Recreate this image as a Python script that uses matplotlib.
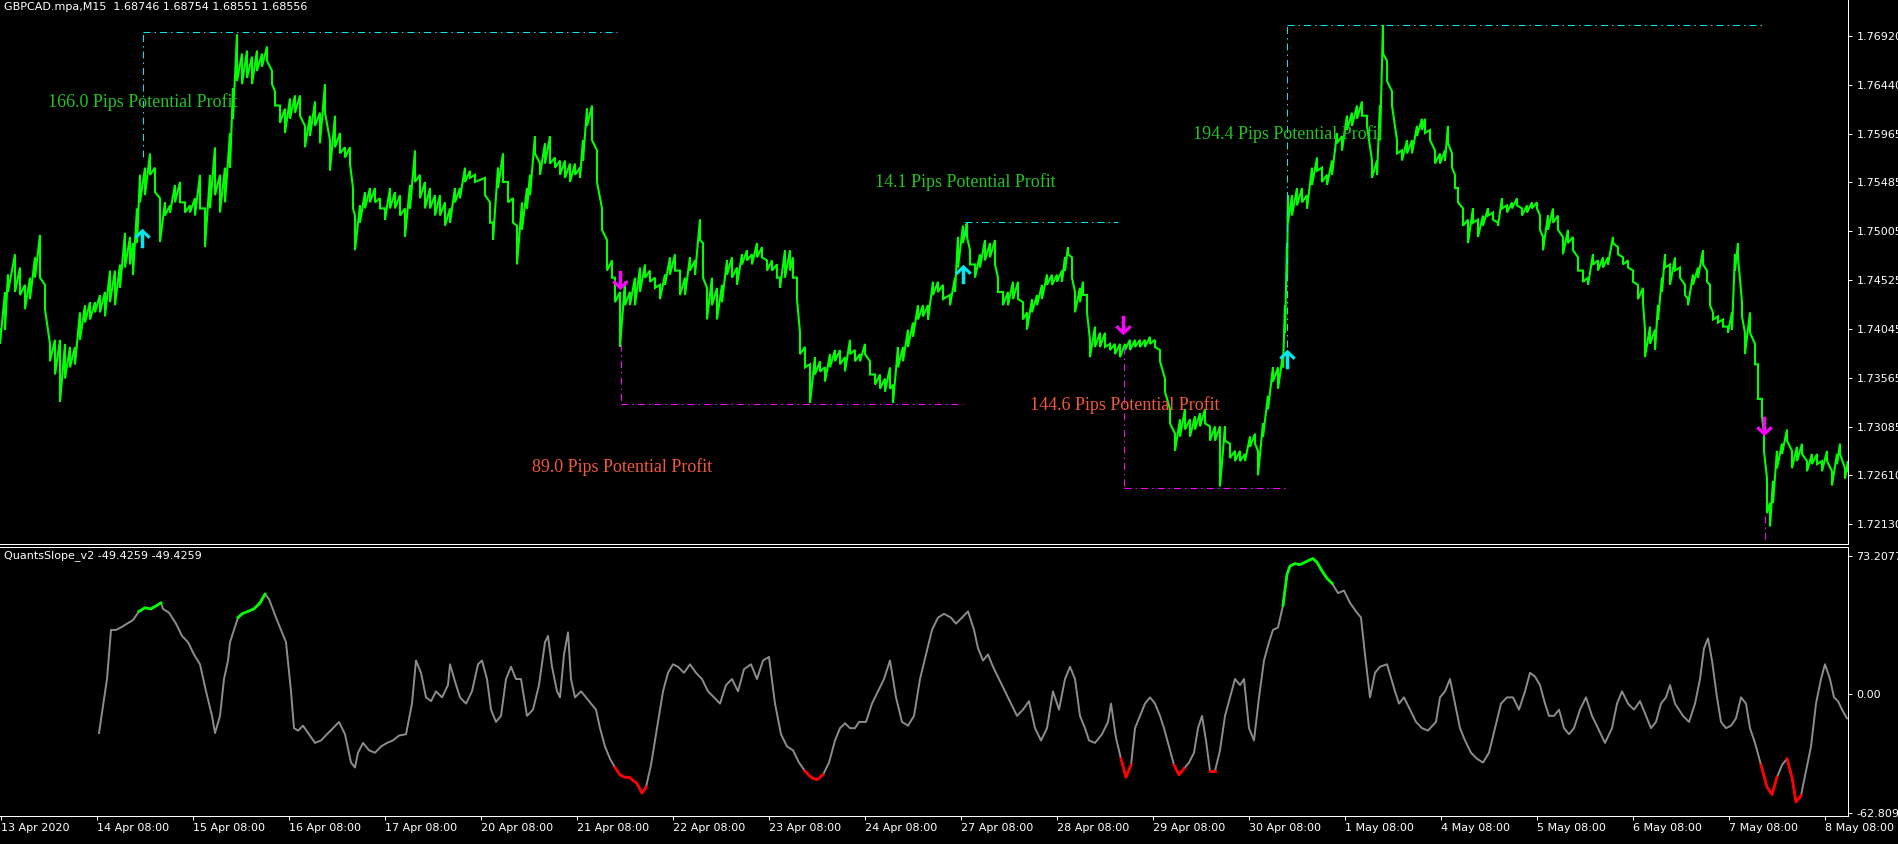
"""
GBPCAD M15 chart with QuantsSlope_v2 signals (MT4 style)
"""
import matplotlib
matplotlib.use('Agg')
import matplotlib.pyplot as plt
from matplotlib.path import Path
import numpy as np

# ---- price series (bar index, high / low of the close line per sample) ----
price_bar = [
    0, 5, 8, 15, 20, 25, 30, 35, 40, 45,
    50, 55, 60, 65, 70, 75, 80, 85, 90, 95,
    100, 105, 110, 115, 120, 125, 130, 133, 137, 140,
    145, 150, 155, 160, 165, 170, 175, 180, 185, 190,
    195, 200, 205, 210, 215, 220, 225, 230, 233, 237,
    242, 247, 252, 257, 262, 267, 272, 275, 280, 285,
    290, 295, 300, 305, 310, 315, 320, 325, 330, 335,
    340, 345, 350, 353, 355, 360, 365, 370, 375, 380,
    385, 390, 395, 400, 405, 410, 415, 420, 425, 430,
    435, 440, 445, 450, 455, 460, 465, 470,
    475, 485, 490, 493, 498, 503, 508, 513, 517, 522,
    527, 530, 535, 540, 545, 550, 555, 560, 565, 570,
    575, 580, 583, 587, 592, 597, 602, 607, 612, 615,
    620, 625, 630, 635, 640, 645, 650, 655, 660, 665,
    670, 675, 680, 685, 690, 695, 700, 703, 707, 712,
    717, 722, 727, 732, 737, 742, 747, 752, 757, 762,
    767, 772, 777, 780, 785, 790, 793, 797, 800, 805,
    810, 815, 820, 825, 830, 835, 840, 845, 850, 855,
    860, 865, 870, 875, 880, 885, 890, 893, 898, 903,
    908, 913, 918, 923, 928, 933, 938, 943,
    950, 955, 958, 963, 967, 970, 975, 980, 985, 990,
    995, 998, 1003, 1008, 1013, 1018, 1023, 1027, 1032, 1037,
    1042, 1047, 1052, 1057, 1062, 1065, 1068, 1072, 1075, 1080,
    1083, 1087, 1090, 1095, 1100, 1105, 1110, 1115, 1120, 1125,
    1130, 1135, 1140, 1145, 1150, 1155, 1160, 1165, 1170, 1175,
    1180, 1185, 1190, 1195, 1200, 1205, 1210, 1215, 1220, 1225,
    1230, 1235, 1240, 1245, 1250, 1255, 1258, 1263, 1268, 1273,
    1278, 1283, 1285, 1287, 1288, 1292, 1297, 1302, 1307, 1312,
    1317, 1322, 1327, 1332, 1337, 1342, 1347, 1352, 1357, 1362,
    1367, 1372, 1377, 1380, 1383, 1387, 1392, 1397, 1402, 1407,
    1412, 1417, 1422,
    1425, 1430, 1435, 1440, 1445, 1448, 1452, 1455, 1458, 1463,
    1468, 1473, 1478, 1483, 1488, 1493, 1498, 1502, 1507, 1512,
    1517, 1522, 1527, 1532, 1537, 1540, 1543, 1548, 1553, 1558,
    1563, 1568, 1573, 1578, 1583, 1588, 1593, 1598, 1603, 1608,
    1613, 1618, 1623, 1628, 1633, 1638, 1643, 1645, 1650, 1655,
    1658, 1662, 1665, 1670, 1675, 1680, 1685, 1688, 1693, 1698,
    1703, 1707, 1710, 1713, 1718, 1723, 1728, 1732, 1735, 1738,
    1742, 1745, 1750, 1755, 1758, 1762, 1764, 1767, 1770, 1773,
    1777, 1782, 1787, 1792, 1797, 1802, 1807, 1812, 1817, 1822,
    1827, 1832, 1837, 1840, 1845, 1848,
]
price_hi = [
    1.7404, 1.7441, 1.7458, 1.7478, 1.7465, 1.7448, 1.7455, 1.7475, 1.7497, 1.7448,
    1.7390, 1.7394, 1.7394, 1.7390, 1.7387, 1.7387, 1.7421, 1.7428, 1.7431, 1.7431,
    1.7438, 1.7441, 1.7462, 1.7462, 1.7468, 1.7499, 1.7495, 1.7489, 1.7523, 1.7556,
    1.7563, 1.7577, 1.7563, 1.7533, 1.7529, 1.7526, 1.7546, 1.7549, 1.7529, 1.7526,
    1.7533, 1.7556, 1.7523, 1.7556, 1.7583, 1.7556, 1.7563, 1.7597, 1.7641, 1.7694,
    1.7675, 1.7678, 1.7672, 1.7678, 1.7675, 1.7682, 1.7658, 1.7638, 1.7624, 1.7621,
    1.7631, 1.7634, 1.7634, 1.7604, 1.7614, 1.7628, 1.7617, 1.7645, 1.7590, 1.7614,
    1.7597, 1.7583, 1.7583, 1.7543, 1.7516, 1.7526, 1.7539, 1.7543, 1.7543, 1.7533,
    1.7523, 1.7543, 1.7539, 1.7536, 1.7523, 1.7546, 1.7580, 1.7556, 1.7549, 1.7543,
    1.7536, 1.7536, 1.7529, 1.7523, 1.7543, 1.7543, 1.7563, 1.7560,
    1.7556, 1.7553, 1.7529, 1.7509, 1.7563, 1.7577, 1.7549, 1.7533, 1.7506, 1.7529,
    1.7543, 1.7556, 1.7594, 1.7567, 1.7587, 1.7594, 1.7573, 1.7570, 1.7570, 1.7567,
    1.7567, 1.7563, 1.7590, 1.7621, 1.7624, 1.7580, 1.7523, 1.7492, 1.7472, 1.7455,
    1.7441, 1.7451, 1.7441, 1.7455, 1.7465, 1.7468, 1.7462, 1.7455, 1.7448, 1.7458,
    1.7475, 1.7478, 1.7462, 1.7455, 1.7475, 1.7472, 1.7512, 1.7489, 1.7445, 1.7455,
    1.7445, 1.7448, 1.7472, 1.7475, 1.7465, 1.7478, 1.7482, 1.7478, 1.7489, 1.7485,
    1.7472, 1.7472, 1.7468, 1.7455, 1.7482, 1.7482, 1.7475, 1.7455, 1.7401, 1.7387,
    1.7370, 1.7377, 1.7373, 1.7367, 1.7380, 1.7384, 1.7384, 1.7377, 1.7394, 1.7384,
    1.7380, 1.7390, 1.7373, 1.7360, 1.7360, 1.7356, 1.7367, 1.7350, 1.7387, 1.7387,
    1.7404, 1.7411, 1.7428, 1.7428, 1.7428, 1.7451, 1.7451, 1.7448,
    1.7438, 1.7455, 1.7495, 1.7506, 1.7509, 1.7482, 1.7468, 1.7478, 1.7492, 1.7489,
    1.7492, 1.7455, 1.7441, 1.7441, 1.7451, 1.7451, 1.7431, 1.7421, 1.7434, 1.7438,
    1.7448, 1.7458, 1.7458, 1.7458, 1.7462, 1.7475, 1.7485, 1.7475, 1.7441, 1.7445,
    1.7451, 1.7438, 1.7394, 1.7407, 1.7401, 1.7401, 1.7390, 1.7390, 1.7390, 1.7390,
    1.7394, 1.7394, 1.7394, 1.7394, 1.7397, 1.7394, 1.7384, 1.7356, 1.7326, 1.7302,
    1.7316, 1.7326, 1.7316, 1.7319, 1.7322, 1.7326, 1.7309, 1.7309, 1.7309, 1.7309,
    1.7292, 1.7285, 1.7285, 1.7282, 1.7299, 1.7302, 1.7285, 1.7312, 1.7339, 1.7367,
    1.7367, 1.7380, 1.7428, 1.7489, 1.7536, 1.7536, 1.7543, 1.7543, 1.7536, 1.7563,
    1.7573, 1.7563, 1.7556, 1.7570, 1.7597, 1.7594, 1.7614, 1.7617, 1.7624, 1.7628,
    1.7614, 1.7570, 1.7570, 1.7624, 1.7703, 1.7668, 1.7638, 1.7590, 1.7580, 1.7590,
    1.7590, 1.7604, 1.7611,
    1.7611, 1.7600, 1.7580, 1.7577, 1.7580, 1.7604, 1.7577, 1.7556, 1.7543, 1.7523,
    1.7512, 1.7523, 1.7512, 1.7516, 1.7523, 1.7519, 1.7509, 1.7533, 1.7526, 1.7529,
    1.7533, 1.7523, 1.7526, 1.7529, 1.7529, 1.7516, 1.7495, 1.7516, 1.7523, 1.7516,
    1.7495, 1.7502, 1.7495, 1.7475, 1.7462, 1.7455, 1.7478, 1.7472, 1.7475, 1.7475,
    1.7495, 1.7485, 1.7475, 1.7472, 1.7462, 1.7448, 1.7445, 1.7404, 1.7407, 1.7404,
    1.7428, 1.7455, 1.7478, 1.7468, 1.7475, 1.7465, 1.7448, 1.7434, 1.7458, 1.7465,
    1.7482, 1.7462, 1.7448, 1.7421, 1.7417, 1.7414, 1.7407, 1.7421, 1.7478, 1.7489,
    1.7431, 1.7401, 1.7421, 1.7390, 1.7370, 1.7336, 1.7302, 1.7258, 1.7234, 1.7255,
    1.7285, 1.7292, 1.7306, 1.7285, 1.7289, 1.7292, 1.7275, 1.7282, 1.7282, 1.7275,
    1.7285, 1.7265, 1.7282, 1.7292, 1.7268, 1.7275,
]
price_lo = [
    1.7390, 1.7404, 1.7441, 1.7441, 1.7438, 1.7424, 1.7434, 1.7455, 1.7455, 1.7424,
    1.7373, 1.7360, 1.7333, 1.7356, 1.7367, 1.7370, 1.7394, 1.7411, 1.7414, 1.7421,
    1.7421, 1.7417, 1.7431, 1.7428, 1.7445, 1.7465, 1.7468, 1.7458, 1.7489, 1.7529,
    1.7536, 1.7556, 1.7539, 1.7490, 1.7516, 1.7519, 1.7529, 1.7529, 1.7519, 1.7519,
    1.7516, 1.7523, 1.7485, 1.7523, 1.7536, 1.7519, 1.7529, 1.7563, 1.7611, 1.7648,
    1.7645, 1.7651, 1.7645, 1.7658, 1.7662, 1.7668, 1.7645, 1.7624, 1.7607, 1.7597,
    1.7611, 1.7617, 1.7614, 1.7583, 1.7594, 1.7604, 1.7587, 1.7617, 1.7560, 1.7583,
    1.7577, 1.7573, 1.7567, 1.7523, 1.7482, 1.7509, 1.7523, 1.7529, 1.7529, 1.7523,
    1.7512, 1.7523, 1.7523, 1.7516, 1.7495, 1.7523, 1.7549, 1.7533, 1.7523, 1.7523,
    1.7516, 1.7516, 1.7506, 1.7509, 1.7529, 1.7533, 1.7549, 1.7553,
    1.7549, 1.7536, 1.7509, 1.7492, 1.7543, 1.7549, 1.7529, 1.7509, 1.7468, 1.7502,
    1.7523, 1.7536, 1.7577, 1.7556, 1.7567, 1.7567, 1.7563, 1.7556, 1.7553, 1.7549,
    1.7556, 1.7553, 1.7570, 1.7604, 1.7590, 1.7549, 1.7502, 1.7462, 1.7455, 1.7431,
    1.7387, 1.7428, 1.7428, 1.7428, 1.7441, 1.7455, 1.7451, 1.7445, 1.7434, 1.7448,
    1.7458, 1.7462, 1.7438, 1.7438, 1.7462, 1.7458, 1.7492, 1.7455, 1.7414, 1.7428,
    1.7414, 1.7431, 1.7458, 1.7455, 1.7448, 1.7468, 1.7472, 1.7468, 1.7475, 1.7475,
    1.7462, 1.7462, 1.7455, 1.7445, 1.7455, 1.7462, 1.7455, 1.7434, 1.7380, 1.7367,
    1.7332, 1.7360, 1.7363, 1.7353, 1.7367, 1.7373, 1.7370, 1.7363, 1.7380, 1.7373,
    1.7373, 1.7380, 1.7360, 1.7350, 1.7346, 1.7343, 1.7346, 1.7332, 1.7367, 1.7373,
    1.7387, 1.7397, 1.7414, 1.7417, 1.7414, 1.7438, 1.7441, 1.7434,
    1.7428, 1.7441, 1.7465, 1.7489, 1.7495, 1.7468, 1.7455, 1.7465, 1.7472, 1.7475,
    1.7468, 1.7441, 1.7428, 1.7428, 1.7434, 1.7434, 1.7414, 1.7404, 1.7421, 1.7428,
    1.7434, 1.7448, 1.7448, 1.7451, 1.7451, 1.7462, 1.7478, 1.7455, 1.7421, 1.7431,
    1.7438, 1.7421, 1.7377, 1.7387, 1.7387, 1.7387, 1.7384, 1.7380, 1.7377, 1.7384,
    1.7384, 1.7387, 1.7387, 1.7387, 1.7390, 1.7387, 1.7373, 1.7343, 1.7312, 1.7285,
    1.7299, 1.7306, 1.7299, 1.7306, 1.7309, 1.7312, 1.7295, 1.7295, 1.7250, 1.7295,
    1.7278, 1.7275, 1.7275, 1.7275, 1.7289, 1.7292, 1.7261, 1.7299, 1.7326, 1.7353,
    1.7346, 1.7367, 1.7401, 1.7455, 1.7509, 1.7516, 1.7526, 1.7529, 1.7523, 1.7546,
    1.7560, 1.7549, 1.7546, 1.7556, 1.7587, 1.7580, 1.7600, 1.7604, 1.7611, 1.7614,
    1.7604, 1.7553, 1.7556, 1.7590, 1.7675, 1.7648, 1.7624, 1.7577, 1.7570, 1.7577,
    1.7577, 1.7594, 1.7600,
    1.7597, 1.7590, 1.7567, 1.7567, 1.7570, 1.7587, 1.7563, 1.7543, 1.7529, 1.7506,
    1.7489, 1.7509, 1.7495, 1.7506, 1.7516, 1.7512, 1.7506, 1.7523, 1.7519, 1.7523,
    1.7526, 1.7516, 1.7519, 1.7523, 1.7523, 1.7502, 1.7482, 1.7502, 1.7509, 1.7502,
    1.7478, 1.7489, 1.7482, 1.7462, 1.7451, 1.7448, 1.7468, 1.7462, 1.7465, 1.7468,
    1.7489, 1.7478, 1.7468, 1.7465, 1.7451, 1.7434, 1.7431, 1.7377, 1.7390, 1.7384,
    1.7414, 1.7441, 1.7465, 1.7448, 1.7462, 1.7455, 1.7438, 1.7428, 1.7448, 1.7455,
    1.7468, 1.7451, 1.7428, 1.7414, 1.7411, 1.7407, 1.7401, 1.7404, 1.7462, 1.7475,
    1.7417, 1.7380, 1.7401, 1.7370, 1.7336, 1.7319, 1.7285, 1.7224, 1.7211, 1.7234,
    1.7268, 1.7282, 1.7295, 1.7268, 1.7275, 1.7282, 1.7265, 1.7272, 1.7272, 1.7265,
    1.7275, 1.7251, 1.7272, 1.7282, 1.7258, 1.7265,
]

# ---- signals ----
arrow_bar = [142, 620, 963, 1123, 1287, 1764]
arrow_price = [1.7494, 1.7453, 1.7459, 1.7409, 1.7375, 1.7309]
arrow_side = ['buy', 'sell', 'buy', 'sell', 'buy', 'sell']

target_start = [143, 621, 965, 1124, 1287]
target_end = [617, 963, 1118, 1287, 1762]
target_level = [1.7696, 1.7331, 1.7510, 1.7249, 1.7703]
entry_level = [1.7573, 1.7390, 1.7496, 1.7387, 1.7387]
target_side = ['buy', 'sell', 'buy', 'sell', 'buy']
open_sell_bar = 1765
open_sell_from = 1.7221

pips = [166.0, 89.0, 14.1, 144.6, 194.4]
pips_bar = [48, 532, 875, 1030, 1193]
pips_price = [1.7627, 1.7269, 1.7549, 1.7330, 1.7596]

price_ticks = [1.76920, 1.76440, 1.75965, 1.75485, 1.75005, 1.74525,
               1.74045, 1.73565, 1.73085, 1.72610, 1.72130]

# ---- QuantsSlope_v2 indicator ----
ind_bar = [
    99, 107, 111, 116, 121, 127, 133, 139, 145, 151, 157, 161, 163, 169, 176,
    182, 188, 194, 200, 206, 212, 215, 220, 224, 228, 230, 234, 238, 242, 248,
    254, 260, 265, 269, 276, 281, 286, 291, 294, 298, 303, 309, 315, 321, 327,
    333, 339, 345, 351, 355, 358, 363, 369, 375, 381, 387, 393, 399, 406, 412,
    416, 421, 426, 431, 436, 442, 448, 450, 455, 460, 466, 472, 478, 482, 487,
    491, 496, 501, 506, 511, 516, 521, 527, 533, 539, 545, 548, 552, 557, 560,
    564, 568, 571, 575, 581, 586, 591, 596, 600, 605, 610, 615, 620, 625, 629,
    637, 642, 646, 651, 657, 663, 668, 673, 678, 684, 690, 696, 702, 708, 714,
    720, 726, 732, 738, 744, 751, 757, 763, 769, 775, 781, 787, 793, 799, 805,
    811, 817, 823, 829, 835, 840, 845, 850, 855, 859, 866, 872, 878, 884, 890,
    896, 902, 908, 914, 920, 926, 932, 938, 944, 951, 956, 962, 968, 974, 978,
    983, 988, 993, 999, 1005, 1011, 1017, 1023, 1029, 1035, 1041, 1047, 1053, 1059,
    1065, 1070, 1075, 1080, 1085, 1089, 1095, 1102, 1108, 1111, 1116, 1121, 1126, 1131,
    1135, 1140, 1145, 1150, 1155, 1160, 1164, 1169, 1174, 1179, 1184, 1189, 1194, 1198,
    1202, 1206, 1210, 1215, 1220, 1225, 1230, 1235, 1240, 1244, 1249, 1254, 1259, 1264,
    1269, 1273, 1278, 1283, 1287, 1290, 1295, 1300, 1305, 1310, 1313, 1317, 1322, 1327,
    1332, 1338, 1344, 1350, 1356, 1361, 1365, 1370, 1375, 1380, 1387, 1395, 1399, 1404,
    1410, 1416, 1422, 1428, 1436, 1440, 1445, 1450, 1455, 1460, 1465, 1471, 1477, 1483,
    1489, 1495, 1501, 1507, 1513, 1519, 1525, 1530, 1535, 1540, 1545, 1549, 1554, 1559,
    1564, 1569, 1574, 1580, 1586, 1592, 1598, 1605, 1612, 1617, 1622, 1628, 1634, 1640,
    1646, 1651, 1656, 1661, 1666, 1670, 1675, 1683, 1689, 1695, 1700, 1704, 1708, 1712,
    1717, 1721, 1726, 1731, 1736, 1741, 1746, 1750, 1755, 1761, 1767, 1772, 1777, 1782,
    1787, 1792, 1796, 1801, 1806, 1811, 1816, 1821, 1825, 1830, 1834, 1838, 1842, 1847,
]
ind_val = [
    -20.5, 8.1, 34.1, 34.1, 35.4, 37.4, 39.3, 43.9, 45.8, 45.2, 47.1, 48.4, 45.2, 43.2, 37.4,
    30.9, 27.6, 21.1, 15.9, 1.6, -11.4, -20.5, -11.4, 8.1, 17.9, 27.6, 34.1, 40.6, 42.6, 43.9,
    45.2, 48.4, 53.0, 50.4, 40.6, 34.1, 27.6, 1.6, -17.9, -19.2, -16.6, -21.1, -25.7, -24.4, -21.1,
    -17.9, -14.6, -21.1, -36.1, -38.7, -30.9, -25.7, -29.6, -30.9, -27.6, -25.7, -24.4, -21.8, -21.1, -4.9,
    17.9, 11.4, -1.6, -3.6, 1.6, -1.6, 4.9, 15.9, 6.8, -1.6, -4.9, 1.6, 15.9, 17.9, 8.1,
    -8.1, -14.6, -11.4, 8.1, 14.6, 8.1, 8.1, -11.4, -8.1, 4.9, 27.6, 30.9, 14.6, 1.6, -1.6,
    21.1, 32.8, 8.1, -1.6, 1.6, -1.6, -4.9, -8.1, -17.9, -27.6, -34.1, -38.7, -42.6, -43.9, -43.9,
    -47.1, -52.3, -49.1, -37.4, -17.9, 1.6, 11.4, 15.9, 14.6, 11.4, 15.9, 11.4, 8.1, 1.6, -1.6,
    -4.9, 4.9, 8.1, 1.6, 13.3, 15.9, 8.1, 17.9, 19.8, -4.9, -21.1, -27.6, -29.6, -36.1, -40.6,
    -43.9, -45.2, -42.6, -36.1, -24.4, -17.9, -15.3, -17.9, -17.9, -14.6, -14.6, -4.9, 1.6, 8.1, 17.9,
    -1.6, -14.6, -16.6, -11.4, 8.1, 21.1, 34.1, 40.6, 42.6, 40.6, 37.4, 40.6, 43.9, 34.1, 24.4,
    17.9, 21.1, 14.6, 8.1, 1.6, -4.9, -11.4, -8.1, -3.6, -17.9, -24.4, -17.9, 1.6, -8.1,
    8.1, 14.6, 8.1, -11.4, -17.9, -24.4, -25.7, -21.1, -14.6, -4.9, -23.1, -34.1, -43.9, -37.4,
    -17.9, -11.4, -4.9, -1.6, -4.9, -11.4, -17.9, -27.6, -37.4, -42.6, -39.3, -36.1, -30.9, -17.9,
    -11.4, -24.4, -40.6, -40.6, -29.6, -11.4, -1.6, 8.1, 4.9, 8.1, -17.9, -24.4, -1.6, 17.9,
    27.6, 34.1, 35.4, 47.1, 63.4, 67.9, 69.2, 68.6, 69.9, 71.2, 71.8, 69.9, 65.3, 61.4,
    58.8, 53.6, 54.9, 48.4, 43.9, 40.6, 21.1, -1.6, 11.4, 14.6, 15.9, 1.6, -4.9, -1.6,
    -8.1, -14.6, -17.9, -19.2, -14.6, -1.6, 1.6, 8.1, -4.9, -17.9, -24.4, -30.9, -34.1, -36.1,
    -30.9, -17.9, -4.9, -1.6, -1.6, -8.1, 1.6, 11.4, 9.4, 4.9, -4.9, -11.4, -11.4, -8.1,
    -17.9, -21.1, -17.9, -8.1, -1.6, -11.4, -17.9, -25.7, -17.9, -4.9, 1.6, -4.9, -8.1, -3.6,
    -11.4, -17.9, -14.6, -4.9, -1.6, 4.9, -4.9, -11.4, -14.6, -4.9, 8.1, 24.4, 29.6, 17.9,
    -1.6, -14.6, -17.9, -16.6, -12.7, -1.6, -4.9, -17.9, -25.7, -37.4, -49.1, -53.0, -43.9, -37.4,
    -34.1, -43.9, -56.9, -53.6, -40.6, -27.6, -4.9, 8.1, 15.9, 8.1, -1.6, -3.6, -8.1, -12.7,
]
green_ranges = [(139, 161), (238, 265), (1283, 1332)]
red_ranges = [(615, 646), (805, 823), (1121, 1131), (1174, 1184), (1210, 1215),
              (1761, 1777), (1787, 1801)]
ind_ticks = [73.2077, 0.0, -62.8092]
ind_tick_labels = ['73.2077', '0.00', '-62.8092']

date_ticks = [1, 97, 193, 289, 385, 481, 577, 673, 769, 865,
              961, 1057, 1153, 1249, 1345, 1441, 1537, 1633, 1729, 1825]
date_labels = ['13 Apr 2020', '14 Apr 08:00', '15 Apr 08:00', '16 Apr 08:00',
               '17 Apr 08:00', '20 Apr 08:00', '21 Apr 08:00', '22 Apr 08:00',
               '23 Apr 08:00', '24 Apr 08:00', '27 Apr 08:00', '28 Apr 08:00',
               '29 Apr 08:00', '30 Apr 08:00', '1 May 08:00', '4 May 08:00',
               '5 May 08:00', '6 May 08:00', '7 May 08:00', '8 May 08:00']

# ---- styling ----
BG = '#000000'
FG = '#FFFFFF'
PRICE_CLR = '#00FF00'
BUY_CLR = '#00E8F0'
SELL_CLR = '#FF00FF'
TXT_BUY = '#22C322'
TXT_SELL = '#F2583E'
PX = 0.72  # one pixel in points at dpi 100
DASHDOT = (0, (7, 4, 1.5, 4))

W, H = 1898, 844
fig = plt.figure(figsize=(W / 100, H / 100), dpi=100, facecolor=BG)
ax = fig.add_axes([0, 1 - 544 / H, 1848 / W, 544 / H], facecolor=BG)
axi = fig.add_axes([0, 1 - 816 / H, 1848 / W, (816 - 547) / H], facecolor=BG)

# price line: vertical stroke per sample, joined to the next one
xs = np.repeat(price_bar, 2)
ys = np.column_stack([price_hi, price_lo]).ravel()
ax.plot(xs, ys, color=PRICE_CLR, lw=1.5, solid_joinstyle='miter')

# target boxes
for b0, b1, lvl, ent, side in zip(target_start, target_end, target_level,
                                  entry_level, target_side):
    c = BUY_CLR if side == 'buy' else SELL_CLR
    ax.plot([b0, b1], [lvl, lvl], color=c, lw=PX, linestyle=DASHDOT)
    ax.plot([b0, b0], [ent, lvl], color=c, lw=PX, linestyle=DASHDOT)
ax.plot([open_sell_bar, open_sell_bar], [open_sell_from, 1.7190],
        color=SELL_CLR, lw=PX, linestyle=DASHDOT)

# arrows
up_verts = [(0, 1), (0.85, 0.2), (0.62, -0.05), (0.18, 0.4), (0.18, -1),
            (-0.18, -1), (-0.18, 0.4), (-0.62, -0.05), (-0.85, 0.2), (0, 1)]
up_arrow = Path(up_verts, closed=True)
down_arrow = Path([(x, -y) for x, y in up_verts], closed=True)
for b, p, side in zip(arrow_bar, arrow_price, arrow_side):
    if side == 'buy':
        ax.plot(b, p, marker=up_arrow, markersize=14, color=BUY_CLR, mew=0)
    else:
        ax.plot(b, p, marker=down_arrow, markersize=14, color=SELL_CLR, mew=0)

# profit labels
for val, b, p, side in zip(pips, pips_bar, pips_price, target_side):
    ax.text(b, p, f'{val:.1f} Pips Potential Profit',
            color=TXT_BUY if side == 'buy' else TXT_SELL,
            family='Liberation Serif', fontsize=13, ha='left', va='center')

ax.set_xlim(0, 1848)
ax.set_ylim(1.71936, 1.77276)
ax.yaxis.tick_right()
ax.set_yticks(price_ticks)
ax.set_yticklabels([f'{t:.5f}' for t in price_ticks])
ax.set_xticks([])
ax.tick_params(axis='y', colors=FG, length=3, width=PX, pad=3, labelsize=8)
for s in ['left', 'top']:
    ax.spines[s].set_visible(False)
for s in ['right', 'bottom']:
    ax.spines[s].set_color(FG)
    ax.spines[s].set_linewidth(PX)

# indicator
ib = np.array(ind_bar)
iv = np.array(ind_val)
axi.plot(ib, iv, color='#8C8C8C', lw=1.4)
for a, b in green_ranges:
    m = (ib >= a) & (ib <= b)
    axi.plot(ib[m], iv[m], color='#00FF00', lw=2.0)
for a, b in red_ranges:
    m = (ib >= a) & (ib <= b)
    axi.plot(ib[m], iv[m], color='#FF0000', lw=2.0)

axi.set_xlim(0, 1848)
axi.set_ylim(-64.38, 77.97)
axi.yaxis.tick_right()
axi.set_yticks(ind_ticks)
axi.set_yticklabels(ind_tick_labels)
axi.set_xticks(date_ticks)
axi.set_xticklabels(date_labels)
for lbl in axi.get_xticklabels():
    lbl.set_horizontalalignment('left')
axi.tick_params(axis='both', colors=FG, length=3, width=PX, labelsize=8)
axi.tick_params(axis='y', pad=3)
axi.tick_params(axis='x', pad=2)
axi.spines['left'].set_visible(False)
for s in ['right', 'bottom', 'top']:
    axi.spines[s].set_color(FG)
    axi.spines[s].set_linewidth(PX)

fig.text(4 / W, 1 - 2 / H, 'GBPCAD.mpa,M15  1.68746 1.68754 1.68551 1.68556',
         color=FG, fontsize=8, ha='left', va='top')
fig.text(4 / W, 1 - 550 / H, 'QuantsSlope_v2 -49.4259 -49.4259',
         color=FG, fontsize=8, ha='left', va='top')

fig.savefig('out.png', dpi=100, facecolor=BG)
